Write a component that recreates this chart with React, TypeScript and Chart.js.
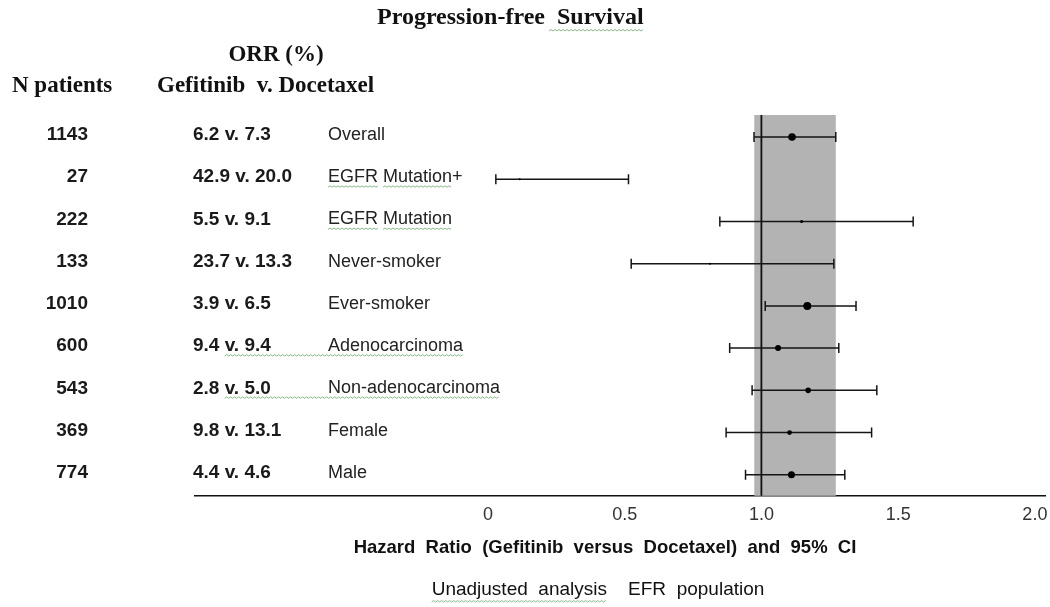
import { useEffect, useRef } from 'react';
import { Chart, registerables } from 'chart.js';

Chart.register(...registerables);

const rowLabels = ['Overall', 'EGFR Mutation+', 'EGFR Mutation', 'Never-smoker', 'Ever-smoker', 'Adenocarcinoma', 'Non-adenocarcinoma', 'Female', 'Male'];
const nPatients = ['1143', '27', '222', '133', '1010', '600', '543', '369', '774'];
const orrText = ['6.2 v. 7.3', '42.9 v. 20.0', '5.5 v. 9.1', '23.7 v. 13.3', '3.9 v. 6.5', '9.4 v. 9.4', '2.8 v. 5.0', '9.8 v. 13.1', '4.4 v. 4.6'];
const hazardRatio = [1.112, 0.116, 1.147, 0.812, 1.168, 1.061, 1.171, 1.103, 1.110];
const ciLower = [0.973, 0.029, 0.848, 0.524, 1.014, 0.884, 0.966, 0.871, 0.942];
const ciUpper = [1.272, 0.514, 1.555, 1.265, 1.346, 1.283, 1.422, 1.403, 1.305];
const pointSizes = [3.8, 1, 1.5, 1, 4, 3, 2.8, 2.4, 3.5];
const xTicks = [0, 0.5, 1, 1.5, 2];
const bandRange = [0.974, 1.272];
const refLine = 1.0;

const titleText = 'Progression-free  Survival';
const orrHeader = 'ORR (%)';
const nHeader = 'N patients';
const armsHeader = 'Gefitinib  v. Docetaxel';
const axisTitle = 'Hazard  Ratio  (Gefitinib  versus  Docetaxel)  and  95%  CI';
const footerA = 'Unadjusted  analysis';
const footerB = 'EFR  population';

const SANS = "'Liberation Sans', Arial, sans-serif";
const SERIF = "'Liberation Serif', 'Times New Roman', serif";

function wavy(ctx: CanvasRenderingContext2D, x1: number, x2: number, y: number) {
  ctx.save();
  ctx.strokeStyle = '#86b886';
  ctx.lineWidth = 1;
  ctx.beginPath();
  let up = true;
  ctx.moveTo(x1, y);
  for (let x = x1 + 2; x <= x2; x += 2) {
    ctx.lineTo(x, up ? y - 1.5 : y);
    up = !up;
  }
  ctx.stroke();
  ctx.restore();
}

export default function App() {
  const ref = useRef<HTMLCanvasElement>(null);

  useEffect(() => {
    document.body.style.margin = '0';
    const canvas = ref.current!;

    const forest = {
      id: 'forest',
      beforeDatasetsDraw(chart: any) {
        const { ctx, chartArea, scales } = chart;
        const xs = scales.x;
        const ys = scales.y;
        ctx.save();
        const b1 = xs.getPixelForValue(bandRange[0]);
        const b2 = xs.getPixelForValue(bandRange[1]);
        ctx.fillStyle = '#b3b3b3';
        ctx.fillRect(b1, chartArea.top, b2 - b1, chartArea.bottom - chartArea.top);
        const rx = xs.getPixelForValue(refLine);
        ctx.strokeStyle = '#111';
        ctx.lineWidth = 1.8;
        ctx.beginPath();
        ctx.moveTo(rx, chartArea.top);
        ctx.lineTo(rx, chartArea.bottom);
        ctx.stroke();
        ctx.lineWidth = 1.5;
        ctx.strokeStyle = '#151515';
        for (let i = 0; i < hazardRatio.length; i++) {
          const y = ys.getPixelForValue(i);
          const lo = xs.getPixelForValue(ciLower[i]);
          const hi = xs.getPixelForValue(ciUpper[i]);
          ctx.beginPath();
          ctx.moveTo(lo, y);
          ctx.lineTo(hi, y);
          ctx.moveTo(lo, y - 5);
          ctx.lineTo(lo, y + 5);
          ctx.moveTo(hi, y - 5);
          ctx.lineTo(hi, y + 5);
          ctx.stroke();
        }
        ctx.restore();
      },
      afterDraw(chart: any) {
        const { ctx, scales } = chart;
        const ys = scales.y;
        ctx.save();
        ctx.textBaseline = 'middle';
        ctx.fillStyle = '#111';
        ctx.font = `bold 24px ${SERIF}`;
        ctx.textAlign = 'left';
        ctx.fillText(titleText, 377, 18);
        const tw = ctx.measureText(titleText).width;
        const sw = ctx.measureText('Survival').width;
        wavy(ctx, 377 + tw - sw - 8, 377 + tw, 31);
        ctx.font = `bold 23px ${SERIF}`;
        ctx.textAlign = 'center';
        ctx.fillText(orrHeader, 276, 55);
        ctx.textAlign = 'left';
        ctx.fillText(nHeader, 12, 86);
        ctx.fillText(armsHeader, 157, 86);

        for (let i = 0; i < rowLabels.length; i++) {
          const y = ys.getPixelForValue(i) - 2;
          ctx.fillStyle = '#1a1a1a';
          ctx.font = `bold 19px ${SANS}`;
          ctx.textAlign = 'right';
          ctx.fillText(nPatients[i], 88, y);
          ctx.font = `bold 19px ${SANS}`;
          ctx.textAlign = 'left';
          ctx.fillText(orrText[i], 193, y);
          ctx.font = `18px ${SANS}`;
          ctx.fillStyle = '#222';
          ctx.fillText(rowLabels[i], 328, y);
          const lw = ctx.measureText(rowLabels[i]).width;
          if (i === 1 || i === 2) {
            const ew = ctx.measureText('EGFR').width;
            const mw = ctx.measureText('Mutation').width;
            const spw = ctx.measureText('EGFR ').width;
            wavy(ctx, 328, 328 + ew, y + 10);
            wavy(ctx, 328 + spw, 328 + spw + mw, y + 10);
          }
          if (i === 5 || i === 6) {
            ctx.font = `bold 19px ${SANS}`;
            const vx = ctx.measureText(orrText[i].split(' ')[0] + ' ').width;
            wavy(ctx, 193 + vx, 328 + lw, y + 10);
          }
        }

        ctx.fillStyle = '#111';
        ctx.textAlign = 'center';
        ctx.font = `bold 18.5px ${SANS}`;
        ctx.fillText(axisTitle, 605, 548);
        ctx.font = `19px ${SANS}`;
        ctx.textAlign = 'left';
        const fa = ctx.measureText(footerA).width;
        const gap = ctx.measureText('    ').width;
        const fb = ctx.measureText(footerB).width;
        const fx = 598 - (fa + gap + fb) / 2;
        ctx.fillText(footerA, fx, 590);
        ctx.fillText(footerB, fx + fa + gap, 590);
        wavy(ctx, fx, fx + fa, 602);
        ctx.restore();
      },
    };

    const chart = new Chart(canvas, {
      type: 'scatter',
      data: {
        datasets: [
          {
            data: hazardRatio.map((v, i) => ({ x: v, y: i })),
            pointRadius: pointSizes,
            pointHoverRadius: pointSizes,
            backgroundColor: '#000',
            borderColor: '#000',
            borderWidth: 0,
          },
        ],
      },
      options: {
        animation: false,
        responsive: false,
        events: [],
        layout: { padding: { left: 195, right: 5, top: 115, bottom: 81.6 } },
        plugins: { legend: { display: false }, tooltip: { enabled: false } },
        scales: {
          x: {
            type: 'linear',
            min: -1.071,
            max: 2.037,
            afterBuildTicks: (s: any) => {
              s.ticks = xTicks.map((v) => ({ value: v }));
            },
            ticks: {
              callback: (v: any) => (Number(v) === 0 ? '0' : Number(v).toFixed(1)),
              font: { family: SANS, size: 18 },
              color: '#333',
              padding: 0,
              autoSkip: false,
              maxRotation: 0,
            },
            grid: { display: false },
            border: { display: true, color: '#111', width: 1.5 },
          },
          y: {
            type: 'linear',
            min: -0.522,
            max: 8.498,
            reverse: true,
            display: false,
          },
        },
      },
      plugins: [forest],
    });
    return () => chart.destroy();
  }, []);

  return (
    <div style={{ width: 1050, height: 607 }}>
      <canvas ref={ref} width={1050} height={607} />
    </div>
  );
}
